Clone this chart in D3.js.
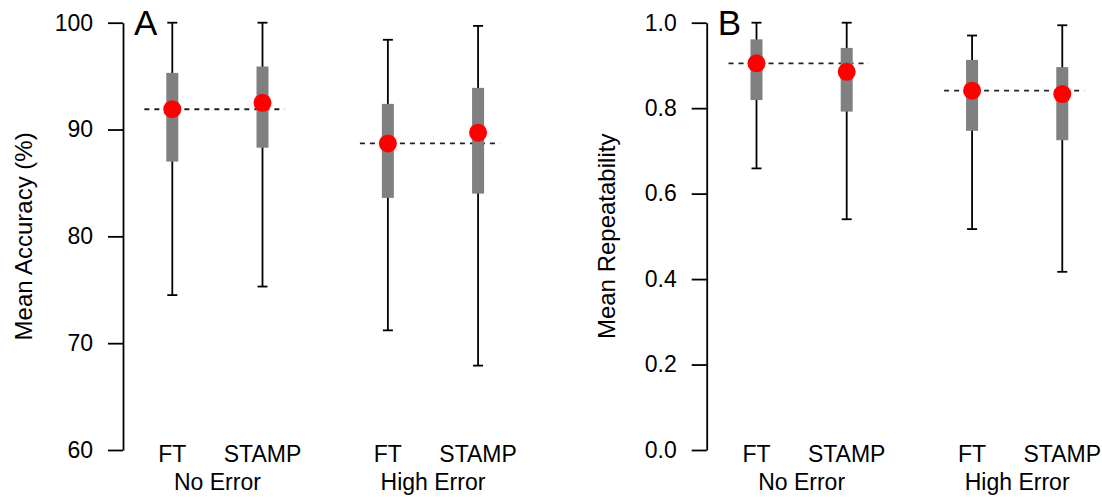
<!DOCTYPE html>
<html>
<head>
<meta charset="utf-8">
<script src="https://cdn.jsdelivr.net/npm/d3@7/dist/d3.min.js"></script>
<style>
  html, body { margin: 0; padding: 0; background: #fff; }
  svg { display: block; }
  text { font-family: "Liberation Sans", Arial, Helvetica, sans-serif; fill: #000; }
</style>
</head>
<body>
<svg id="chart" width="1102" height="497"></svg>
<script>
// ---- Data ----
const groups = ["No Error", "High Error"];
const methods = ["FT", "STAMP"];
const positions = [1, 2, 3.39, 4.39];          // x positions: FT/STAMP per group

// Panel A: Mean Accuracy (%)
const accMean  = [91.9, 92.5, 88.7, 89.7];
const accBoxLo = [87.0, 88.3, 83.6, 84.0];
const accBoxHi = [95.3, 95.9, 92.4, 93.9];
const accWhLo  = [74.5, 75.3, 71.2, 67.9];
const accWhHi  = [100, 100, 98.4, 99.7];
const accRef   = [91.9, 88.7];
const accTicks = [60, 70, 80, 90, 100];

// Panel B: Mean Repeatability
const repMean  = [0.905, 0.885, 0.841, 0.833];
const repBoxLo = [0.819, 0.792, 0.747, 0.725];
const repBoxHi = [0.961, 0.941, 0.913, 0.896];
const repWhLo  = [0.659, 0.540, 0.517, 0.417];
const repWhHi  = [1.0, 1.0, 0.970, 0.994];
const repRef   = [0.905, 0.841];
const repTicks = [0.0, 0.2, 0.4, 0.6, 0.8, 1.0];

const svg = d3.select("#chart");

function panel(opts) {
  const g = svg.append("g").attr("transform", `translate(${opts.offset},0)`);
  const x = d3.scaleLinear().domain([0, 5]).range([82.1, 533.1]);
  const y = d3.scaleLinear().domain(opts.domain).range([450, 22.7]);

  // y axis
  const ax = g.append("g")
    .attr("transform", `translate(${opts.axisX},0)`)
    .call(d3.axisLeft(y).tickValues(opts.ticks).tickFormat(opts.fmt)
      .tickSize(15).tickSizeOuter(0).tickPadding(15));
  ax.select(".domain").attr("stroke", "#000").attr("stroke-width", 1.8);
  ax.selectAll(".tick line").attr("stroke", "#000").attr("stroke-width", 1.8);
  ax.selectAll(".tick text").attr("font-size", 23)
    .attr("font-family", '"Liberation Sans", Arial, Helvetica, sans-serif')
    .attr("fill", "#000");

  // axis title
  g.append("text")
    .attr("transform", `translate(${opts.axisX - 91.3},${(y.range()[0] + y.range()[1]) / 2}) rotate(-90)`)
    .attr("text-anchor", "middle")
    .attr("font-size", 24)
    .text(opts.title);

  // panel letter
  g.append("text")
    .attr("x", opts.axisX + 11).attr("y", 35)
    .attr("font-size", 35)
    .text(opts.letter);

  const idx = d3.range(positions.length);

  // dashed reference lines (per group, at FT mean)
  g.selectAll(".ref").data(groups).enter().append("line")
    .attr("x1", (d, i) => x(positions[i * 2] - 0.31))
    .attr("x2", (d, i) => x(positions[i * 2 + 1] + 0.244))
    .attr("y1", (d, i) => y(opts.ref[i]))
    .attr("y2", (d, i) => y(opts.ref[i]))
    .attr("stroke", "#222").attr("stroke-width", 1.8)
    .attr("stroke-dasharray", "5,5");

  // whiskers
  g.selectAll(".wh").data(idx).enter().append("line")
    .attr("x1", i => x(positions[i])).attr("x2", i => x(positions[i]))
    .attr("y1", i => y(opts.whLo[i])).attr("y2", i => y(opts.whHi[i]))
    .attr("stroke", "#000").attr("stroke-width", 1.8);
  // caps
  [opts.whLo, opts.whHi].forEach(arr => {
    g.selectAll(null).data(idx).enter().append("line")
      .attr("x1", i => x(positions[i]) - 5).attr("x2", i => x(positions[i]) + 5)
      .attr("y1", i => y(arr[i])).attr("y2", i => y(arr[i]))
      .attr("stroke", "#000").attr("stroke-width", 1.8);
  });

  // boxes
  g.selectAll(".box").data(idx).enter().append("rect")
    .attr("x", i => x(positions[i]) - 6)
    .attr("width", 12)
    .attr("y", i => y(opts.boxHi[i]))
    .attr("height", i => y(opts.boxLo[i]) - y(opts.boxHi[i]))
    .attr("fill", "#808080");

  // means
  g.selectAll(".pt").data(idx).enter().append("circle")
    .attr("cx", i => x(positions[i]))
    .attr("cy", i => y(opts.mean[i]))
    .attr("r", 9)
    .attr("fill", "#ff0000");

  // category labels
  g.selectAll(".cat").data(idx).enter().append("text")
    .attr("x", i => x(positions[i])).attr("y", 461.7)
    .attr("text-anchor", "middle").attr("font-size", 23)
    .text(i => methods[i % 2]);
  g.selectAll(".grp").data(groups).enter().append("text")
    .attr("x", (d, i) => x((positions[i * 2] + positions[i * 2 + 1]) / 2)).attr("y", 490)
    .attr("text-anchor", "middle").attr("font-size", 23)
    .text(d => d);
}

panel({
  offset: 0, axisX: 123, domain: [60, 100], ticks: accTicks, fmt: d3.format("d"),
  title: "Mean Accuracy (%)", letter: "A",
  mean: accMean, boxLo: accBoxLo, boxHi: accBoxHi, whLo: accWhLo, whHi: accWhHi, ref: accRef
});
panel({
  offset: 584.2, axisX: 122.5, domain: [0, 1], ticks: repTicks, fmt: d3.format(".1f"),
  title: "Mean Repeatability", letter: "B",
  mean: repMean, boxLo: repBoxLo, boxHi: repBoxHi, whLo: repWhLo, whHi: repWhHi, ref: repRef
});
</script>
</body>
</html>
